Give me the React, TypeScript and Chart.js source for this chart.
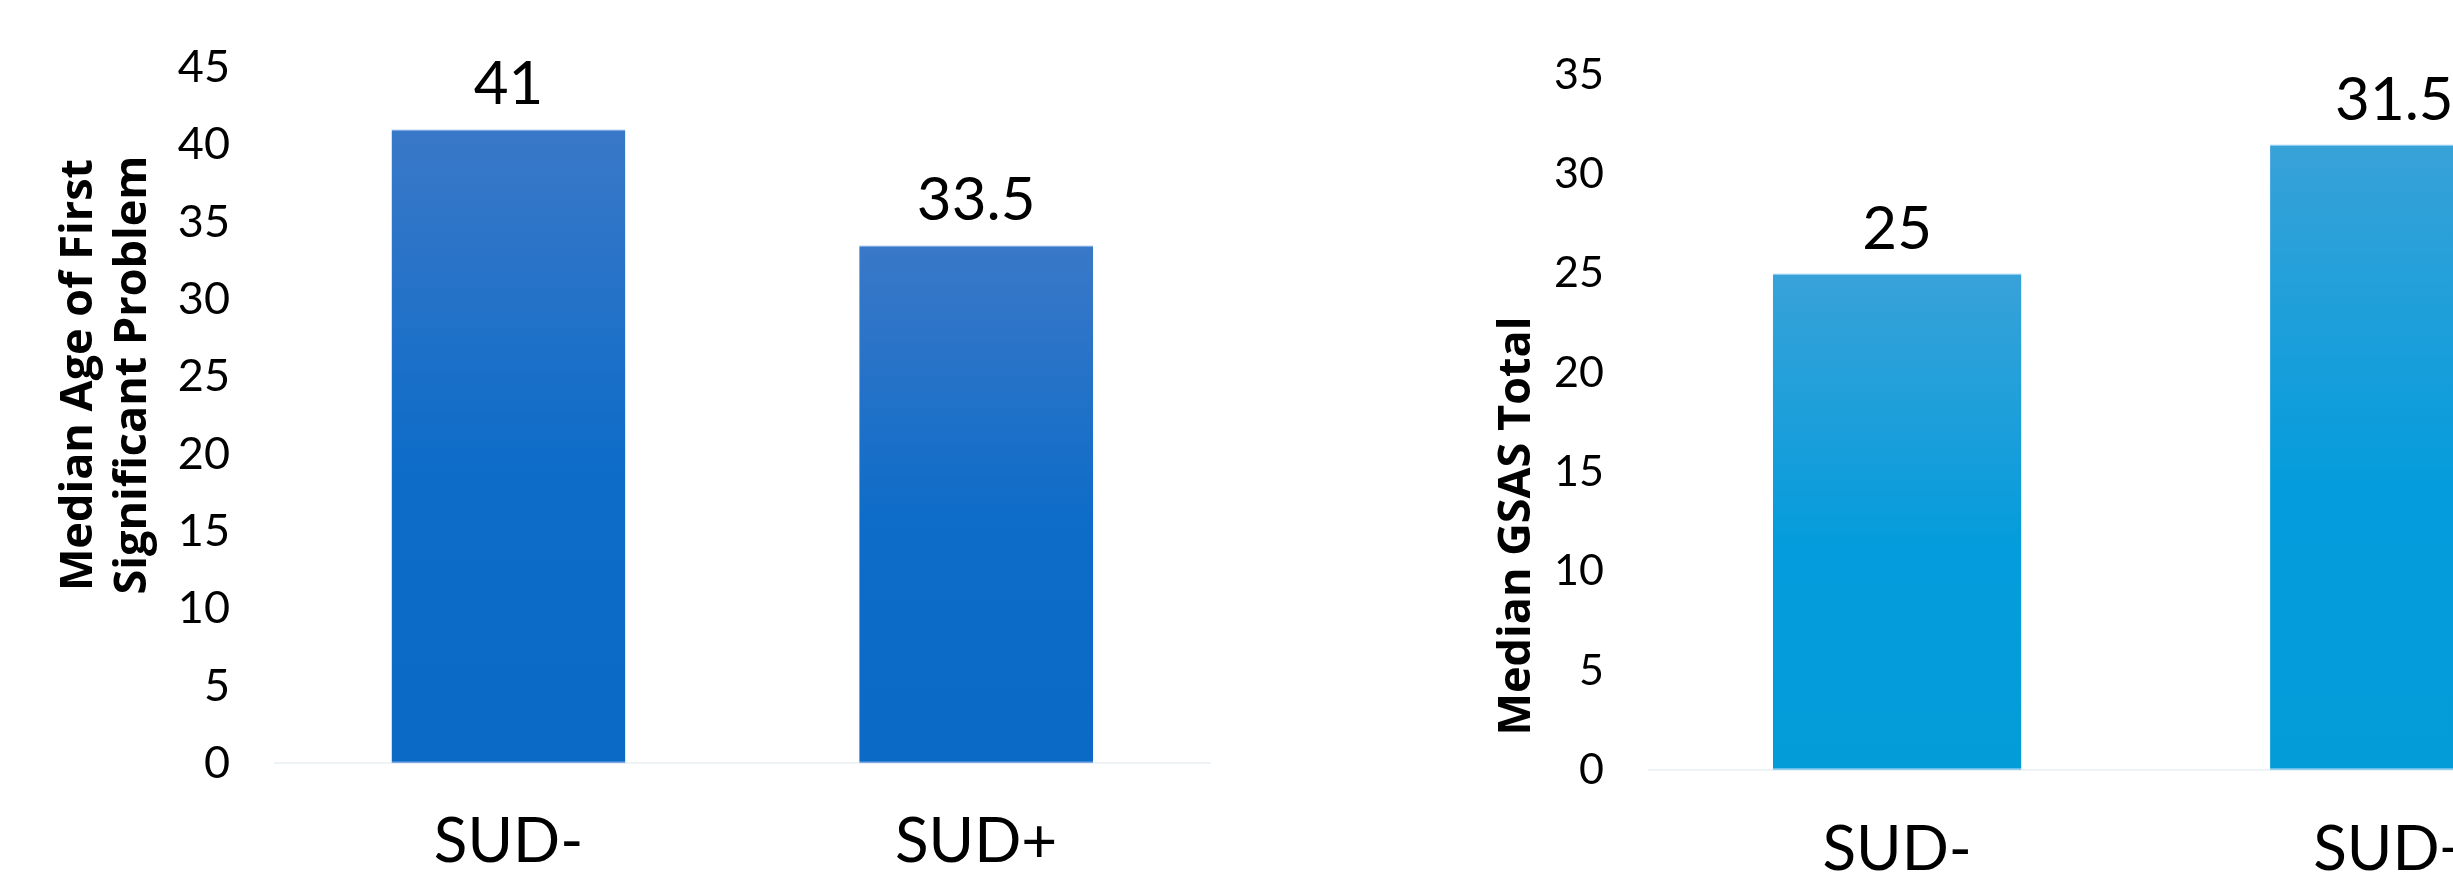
import React, { useEffect, useRef } from "react";
import { Chart, registerables } from "chart.js";

Chart.register(...registerables);

// Groups shown on both panels
const categories = ["SUD-", "SUD+"];

// Left panel: median age at first significant problem
const onsetAgeValues = [41, 33.5];
const onsetAgeTicks = [0, 5, 10, 15, 20, 25, 30, 35, 40, 45];
const onsetAgeTitle = ["Median Age of First", "Significant Problem"];

// Right panel: median GSAS total score
const gsasValues = [25, 31.5];
const gsasTicks = [0, 5, 10, 15, 20, 25, 30, 35];
const gsasTitle = ["Median GSAS Total"];

type Panel = {
  values: number[];
  ticks: number[];
  title: string[];
  titleX: number[];
  titleY: number;
  stops: [number, string][];
  edge: string;
  left: number;
  width: number;
  height: number;
  plotTop: number;
  axisWidth: number;
  xAxisHeight: number;
  tickSize: number;
  tickPad: number;
  xPad: number;
};

const PAGE_W = 2453;
const PAGE_H = 873;

const panels: Panel[] = [
  {
    values: onsetAgeValues,
    ticks: onsetAgeTicks,
    title: onsetAgeTitle,
    titleX: [92, 146],
    titleY: 375,
    stops: [
      [0, "rgb(58,120,200)"],
      [0.55, "rgb(12,108,200)"],
      [1, "rgb(10,106,198)"],
    ],
    edge: "rgba(110,160,225,0.9)",
    left: 0,
    width: 1220,
    height: PAGE_H,
    plotTop: 67.6,
    axisWidth: 274.6,
    xAxisHeight: PAGE_H - 763.3,
    tickSize: 45,
    tickPad: 44.6,
    xPad: 41.5,
  },
  {
    values: gsasValues,
    ticks: gsasTicks,
    title: gsasTitle,
    titleX: [1530 - 1330],
    titleY: 526,
    stops: [
      [0, "rgb(56,162,216)"],
      [0.55, "rgb(4,156,220)"],
      [1, "rgb(4,155,217)"],
    ],
    edge: "rgba(130,200,240,0.9)",
    left: 1330,
    width: 1323,
    height: PAGE_H,
    plotTop: 75,
    axisWidth: 318.5,
    xAxisHeight: PAGE_H - 770,
    tickSize: 43,
    tickPad: 44.5,
    xPad: 42.8,
  },
];

function makeValueLabels(size: number, gap: number) {
  return {
    id: "valueLabels",
    afterDatasetsDraw(chart: any) {
      const { ctx } = chart;
      const meta = chart.getDatasetMeta(0);
      const data = chart.data.datasets[0].data as number[];
      ctx.save();
      ctx.font = `${size}px Lato`;
      ctx.fillStyle = "#000";
      ctx.textAlign = "center";
      ctx.textBaseline = "alphabetic";
      meta.data.forEach((bar: any, i: number) => {
        ctx.fillText(String(data[i]), bar.x, bar.y - gap);
      });
      ctx.restore();
    },
  };
}

function makeAxisTitle(lines: string[], xs: number[], y: number, size: number) {
  return {
    id: "axisTitle",
    afterDraw(chart: any) {
      const { ctx } = chart;
      ctx.save();
      ctx.font = `bold ${size}px "Open Sans"`;
      ctx.fillStyle = "#000";
      ctx.textAlign = "center";
      ctx.textBaseline = "alphabetic";
      lines.forEach((line, i) => {
        ctx.save();
        ctx.translate(xs[i], y);
        ctx.rotate(-Math.PI / 2);
        ctx.fillText(line, 0, 0);
        ctx.restore();
      });
      ctx.restore();
    },
  };
}

function BarPanel({ p }: { p: Panel }) {
  const ref = useRef<HTMLCanvasElement | null>(null);

  useEffect(() => {
    const canvas = ref.current;
    if (!canvas) return;
    const chart = new Chart(canvas, {
      type: "bar",
      data: {
        labels: categories,
        datasets: [
          {
            data: p.values,
            backgroundColor: (c: any) => {
              const y = c.chart.scales?.y;
              if (!y || c.type !== "data") return p.stops[1][1];
              const top = y.getPixelForValue(c.raw as number);
              const bottom = y.getPixelForValue(0);
              if (!isFinite(top) || !isFinite(bottom) || top === bottom) return p.stops[1][1];
              const g = c.chart.ctx.createLinearGradient(0, top, 0, bottom);
              p.stops.forEach(([o, col]) => g.addColorStop(o, col));
              return g;
            },
            borderColor: p.edge,
            borderWidth: { top: 1.5, bottom: 1.5, left: 0, right: 0 },
            borderSkipped: false,
            barPercentage: 0.5,
            categoryPercentage: 1,
          },
        ],
      },
      options: {
        responsive: false,
        animation: false,
        devicePixelRatio: 1,
        layout: { padding: { top: p.plotTop, left: 0, right: 10, bottom: 0 } },
        plugins: {
          legend: { display: false },
          tooltip: { enabled: false },
        },
        scales: {
          x: {
            grid: { display: false, drawTicks: false },
            border: { display: true, color: "#eef3f6", width: 2 },
            ticks: {
              color: "#000",
              font: { family: "Lato", size: 62 },
              padding: p.xPad,
              maxRotation: 0,
            },
            afterFit: (s: any) => {
              s.height = p.xAxisHeight;
            },
          },
          y: {
            min: p.ticks[0],
            max: p.ticks[p.ticks.length - 1],
            afterBuildTicks: (s: any) => {
              s.ticks = p.ticks.map((v) => ({ value: v }));
            },
            grid: { display: false, drawTicks: false },
            border: { display: false },
            ticks: {
              color: "#000",
              font: { family: "Lato", size: p.tickSize },
              padding: p.tickPad,
            },
            afterFit: (s: any) => {
              s.width = p.axisWidth;
              // the layout padding already leaves room for the end labels
              s.paddingTop = 0;
              s.paddingBottom = 0;
            },
          },
        },
      },
      plugins: [makeValueLabels(60, 25), makeAxisTitle(p.title, p.titleX, p.titleY, 45)],
    });
    return () => chart.destroy();
  }, [p]);

  return (
    <canvas
      ref={ref}
      width={p.width}
      height={p.height}
      style={{
        position: "absolute",
        left: p.left,
        top: 0,
        width: p.width,
        height: p.height,
      }}
    />
  );
}

export default function App() {
  return (
    <div
      style={{
        position: "fixed",
        left: 0,
        top: 0,
        width: PAGE_W,
        height: PAGE_H,
        overflow: "hidden",
        background: "#fff",
      }}
    >
      {panels.map((p, i) => (
        <BarPanel key={i} p={p} />
      ))}
    </div>
  );
}
